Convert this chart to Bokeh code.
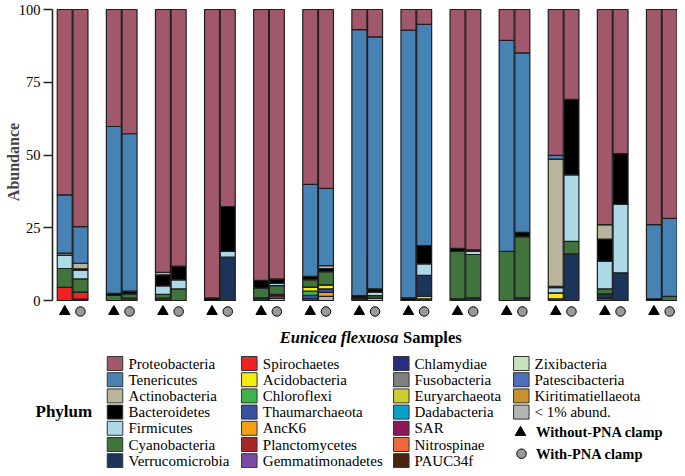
from bokeh.plotting import figure
from bokeh.models import Range1d, FixedTicker, ColumnDataSource
from bokeh.layouts import column
from bokeh.embed import file_html
from bokeh.resources import INLINE
from bokeh.core.properties import value

# ---------------- data ----------------
samples = [str(i) for i in range(1, 14)]
treatments = ["Without-PNA clamp", "With-PNA clamp"]
tick_values = [0, 25, 50, 75, 100]

phyla = ["Proteobacteria", "Tenericutes", "Actinobacteria", "Bacteroidetes", "Firmicutes",
         "Cyanobacteria", "Verrucomicrobia", "Spirochaetes", "Acidobacteria", "Chloroflexi",
         "Thaumarchaeota", "AncK6", "Planctomycetes", "Gemmatimonadetes", "Chlamydiae",
         "Fusobacteria", "Euryarchaeota", "Dadabacteria", "SAR", "Nitrospinae", "PAUC34f",
         "Zixibacteria", "Patescibacteria", "Kiritimatiellaeota", "< 1% abund."]
phylum_colors = ["#A0586A", "#4682B4", "#B9B49B", "#000000", "#ADD8E6",
                 "#41733C", "#1C345A", "#EE2222", "#F5EB14", "#3CB44B",
                 "#3750A0", "#F5A014", "#A52828", "#784BA0", "#282D82",
                 "#808080", "#CDCD32", "#0AA0C8", "#8C1955", "#F0693C", "#4B230F",
                 "#C3E4BC", "#506EBE", "#C8912D", "#B4B4B4"]

# one value per bar: sample 1 without, sample 1 with, sample 2 without, ...
proteobacteria = [63.7, 74.6, 40.2, 42.7, 90.3, 88.2, 99.1, 67.7, 93.1, 92.6, 60.1, 61.5, 6.9,
                  9.4, 7.1, 5.1, 82.1, 82.6, 10.6, 14.9, 50.1, 30.9, 73.9, 49.5, 73.9, 71.8]
tenericutes = [20.0, 12.6, 57.3, 54.1, 0, 0, 0, 0, 0, 0, 31.6, 26.5, 91.4,
               86.6, 92.0, 76.0, 0, 0, 72.5, 61.7, 1.3, 0, 0, 0, 25.5, 26.8]
actinobacteria = [0.7, 1.9, 0, 0, 0.9, 0, 0, 0, 0, 0, 0, 1.0, 0,
                  0, 0, 0, 0, 0, 0, 0, 43.7, 0, 5.0, 0, 0, 0]
bacteroidetes = [0, 0.5, 0.7, 0.9, 3.8, 4.7, 0.9, 15.4, 2.6, 1.5, 1.1, 1.1, 0.8,
                 1.1, 0.9, 6.3, 1.0, 0.5, 0, 1.5, 0.5, 25.9, 7.6, 17.4, 0.6, 0]
firmicutes = [4.6, 3.0, 0, 0, 2.9, 3.1, 0, 2.0, 0, 0.8, 0, 0, 0,
              1.2, 0, 4.0, 0, 1.1, 0, 0, 1.8, 22.9, 9.5, 23.6, 0, 0]
cyanobacteria = [6.5, 4.5, 1.8, 1.5, 1.3, 4.0, 0, 0, 3.4, 3.0, 2.6, 4.5, 0,
                 0.9, 0, 0, 16.3, 14.9, 16.9, 21.0, 0, 4.3, 1.7, 0, 0, 1.4]
verrucomicrobia = [0, 0, 0, 0.8, 0.8, 0, 0, 14.9, 0.9, 0.5, 0, 0, 0,
                   0, 0, 7.2, 0, 0.9, 0, 0.9, 0, 16.0, 1.4, 9.5, 0, 0]
spirochaetes = [4.5, 2.4, 0, 0, 0, 0, 0, 0, 0, 0.9, 0, 0, 0,
                0, 0, 0, 0, 0, 0, 0, 0, 0, 0, 0, 0, 0]
acidobacteria = [0, 0, 0, 0, 0, 0, 0, 0, 0, 0, 1.4, 1.4, 0,
                 0, 0, 0.8, 0, 0, 0, 0, 2.0, 0, 0, 0, 0, 0]
chloroflexi = [0, 0, 0, 0, 0, 0, 0, 0, 0, 0, 1.4, 0, 0,
               0, 0, 0, 0, 0, 0, 0, 0, 0, 0, 0, 0, 0]
thaumarchaeota = [0, 0, 0, 0, 0, 0, 0, 0, 0, 0, 1.2, 1.2, 0,
                  0, 0, 0, 0, 0, 0, 0, 0, 0, 0, 0, 0, 0]
anck6 = [0, 0, 0, 0, 0, 0, 0, 0, 0, 0, 0, 1.4, 0,
         0, 0, 0, 0, 0, 0, 0, 0, 0, 0, 0, 0, 0]
planctomycetes = [0, 0, 0, 0, 0, 0, 0, 0, 0, 0, 0, 0, 0,
                  0, 0, 0, 0, 0, 0, 0, 0, 0, 0.9, 0, 0, 0]
pauc34f = [0, 0, 0, 0, 0, 0, 0, 0, 0, 0, 0, 0, 0.9,
           0, 0, 0, 0, 0, 0, 0, 0, 0, 0, 0, 0, 0]
below_1pct = [0, 0.5, 0, 0, 0, 0, 0, 0, 0, 0.7, 0.6, 1.4, 0,
              0.8, 0, 0.6, 0.6, 0, 0, 0, 0.6, 0, 0, 0, 0, 0]

series = {
    "Proteobacteria": proteobacteria, "Tenericutes": tenericutes,
    "Actinobacteria": actinobacteria, "Bacteroidetes": bacteroidetes,
    "Firmicutes": firmicutes, "Cyanobacteria": cyanobacteria,
    "Verrucomicrobia": verrucomicrobia, "Spirochaetes": spirochaetes,
    "Acidobacteria": acidobacteria, "Chloroflexi": chloroflexi,
    "Thaumarchaeota": thaumarchaeota, "AncK6": anck6,
    "Planctomycetes": planctomycetes, "PAUC34f": pauc34f,
    "< 1% abund.": below_1pct,
}

# ---------------- layout constants ----------------
SERIF = value("Liberation Serif")
W = 677
H_TOP = 323
H_LEG = 145
PITCH = 49.1          # px per sample pair
BAR_W = 0.305         # in pair units
OFFSET = 0.16
frame_left = 52

# ---------------- bar figure ----------------
x_start = -20.1 / PITCH
x_end = x_start + (W - frame_left) / PITCH
y_scale = 2.91
y_end = 100 + 9 / y_scale
y_start = y_end - H_TOP / y_scale

p = figure(width=W, height=H_TOP, output_backend="svg", toolbar_location=None,
           x_range=Range1d(x_start, x_end), y_range=Range1d(y_start, y_end),
           x_axis_location=None, min_border_left=frame_left, min_border_right=0,
           min_border_top=0, min_border_bottom=0)
p.frame_align = False
p.outline_line_color = None
p.grid.grid_line_color = None
p.background_fill_color = "white"

bar_x = []
bar_sample = []
bar_treat = []
for i, s in enumerate(samples):
    for j, t in enumerate(treatments):
        bar_x.append(i + (OFFSET if j == 1 else -OFFSET))
        bar_sample.append(s)
        bar_treat.append(t)

data = {"x": bar_x, "sample": bar_sample, "treatment": bar_treat}
for name in phyla:
    if name in series:
        data[name] = series[name]
stackers = []
stack_colors = []
# bottom of the stack = last legend entry
for name, col in reversed(list(zip(phyla, phylum_colors))):
    if name in series:
        stackers.append(name)
        stack_colors.append(col)
src = ColumnDataSource(data)
p.vbar_stack(stackers, x="x", width=BAR_W, color=stack_colors, source=src,
             line_color="#1e1e1e", line_width=1.2)

marker_y = -3.78
tri_x = [i - OFFSET for i in range(len(samples))]
cir_x = [i + OFFSET for i in range(len(samples))]
p.scatter(x=tri_x, y=[marker_y] * len(samples), marker="triangle", size=10.5,
          fill_color="black", line_color="black")
p.scatter(x=cir_x, y=[marker_y] * len(samples), marker="circle", size=9.5,
          fill_color="#999999", line_color="black", line_width=1)

ax = p.yaxis[0]
ax.ticker = FixedTicker(ticks=tick_values)
ax.bounds = (0, 100)
ax.axis_label = "Abundance"
ax.axis_label_text_font = "Liberation Serif"
ax.axis_label_text_font_style = "bold"
ax.axis_label_text_font_size = "16px"
ax.axis_label_standoff = -6
ax.major_label_text_font = "Liberation Serif"
ax.major_label_text_font_size = "14.5px"
ax.major_label_text_color = "black"
ax.major_label_standoff = 3
ax.major_tick_out = 9
ax.major_tick_in = 0
ax.minor_tick_out = 0
ax.minor_tick_in = 0
ax.axis_line_width = 1.6
ax.axis_line_color = "#222222"
ax.major_tick_line_width = 1.6
ax.major_tick_line_color = "#222222"

# ---------------- legend figure (coordinates: layout pixels) ----------------
q = figure(width=W, height=H_LEG, output_backend="svg", toolbar_location=None,
           x_range=Range1d(1, 1 + W), y_range=Range1d(H_TOP + H_LEG, H_TOP),
           x_axis_location=None, y_axis_location=None,
           min_border_left=0, min_border_right=0, min_border_top=0, min_border_bottom=0)
q.frame_align = False
q.outline_line_color = None
q.grid.grid_line_color = None

# axis title
q.text(x=[399], y=[337.3], text=["Eunicea flexuosa"], text_font=SERIF,
       text_font_style="bold italic", text_font_size="16.5px", text_align="right",
       text_baseline="alphabetic", text_color="black")
q.text(x=[403.5], y=[337.3], text=["Samples"], text_font=SERIF,
       text_font_style="bold", text_font_size="16.5px", text_align="left",
       text_baseline="alphabetic", text_color="black")

col_swatch_x = [115.5, 249.8, 401.8, 521.8]
col_text_x = [129, 263.3, 415, 535]
row0 = 363.0
row_h = 16.2
per_col = 7

# "Phylum"
q.text(x=[36], y=[row0 + 3 * row_h - 1], text=["Phylum"], text_font=SERIF,
       text_font_style="bold", text_font_size="17px", text_align="left",
       text_baseline="middle", text_color="black")

sw_x, sw_y, sw_c, tx_x, tx_y, tx_t = [], [], [], [], [], []
for k, (name, colr) in enumerate(zip(phyla, phylum_colors)):
    c = k // per_col
    r = k % per_col
    sw_x.append(col_swatch_x[c])
    sw_y.append(row0 + r * row_h)
    sw_c.append(colr)
    tx_x.append(col_text_x[c])
    tx_y.append(row0 + r * row_h)
    tx_t.append(name)
q.rect(x=sw_x, y=sw_y, width=15.5, height=14.0, fill_color=sw_c,
       line_color="#333333", line_width=1)
q.text(x=tx_x, y=tx_y, text=tx_t, text_font=SERIF, text_font_size="15px",
       text_align="left", text_baseline="middle", text_color="black")

# treatment legend
tr_y = [row0 + 4.25 * row_h, row0 + 5.57 * row_h]
q.scatter(x=[521], y=[tr_y[0]], marker="triangle", size=10.5, fill_color="black", line_color="black")
q.scatter(x=[522], y=[tr_y[1]], marker="circle", size=9.5, fill_color="#999999",
          line_color="black", line_width=1)
q.text(x=[536.5, 536.5], y=tr_y, text=treatments, text_font=SERIF, text_font_style="bold",
       text_font_size="14.5px", text_align="left", text_baseline="middle", text_color="black")

layout = column(p, q, spacing=0)
open("out.html", "w").write(file_html(layout, INLINE))
